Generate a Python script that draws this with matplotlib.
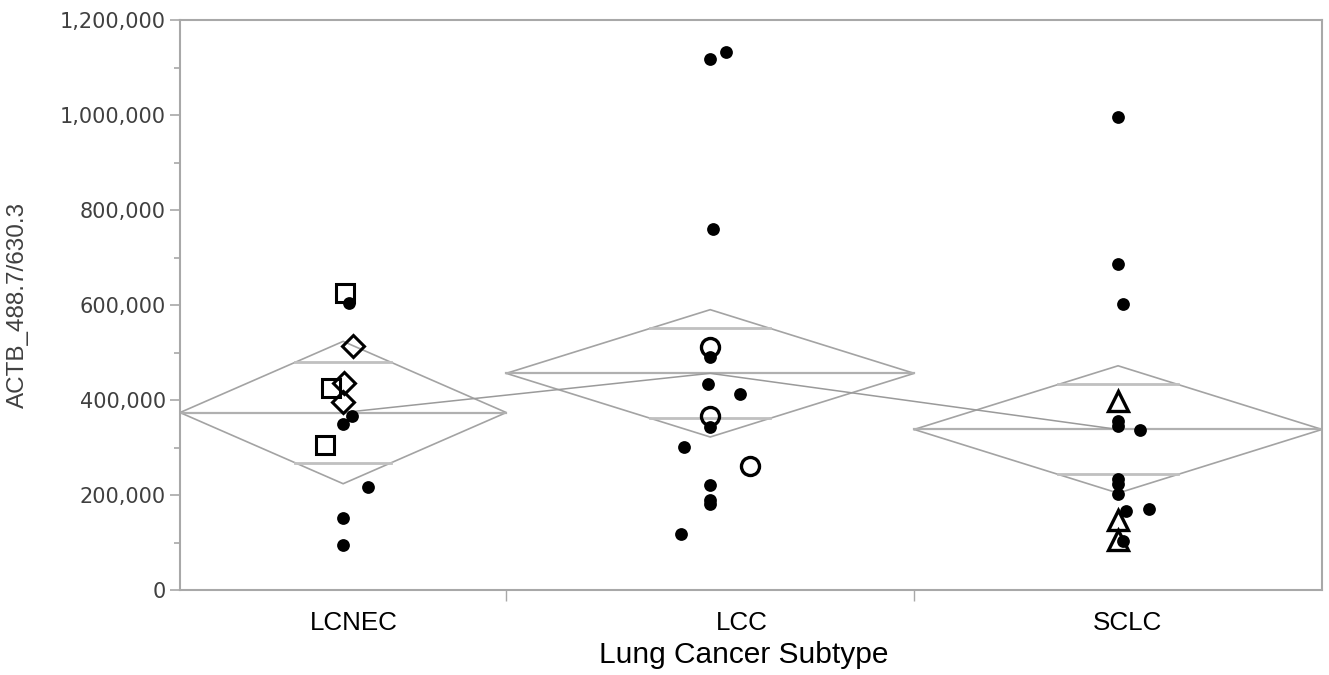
import numpy as np
import matplotlib
matplotlib.use("Agg")
import matplotlib.pyplot as plt
from matplotlib.ticker import FuncFormatter, MultipleLocator, FixedLocator

# ---------------- data ----------------
subtypes = ["LCNEC", "LCC", "SCLC"]

lcnec_values = [604000, 366000, 349000, 217000, 151000, 95000,
                625000, 425000, 305000,
                514000, 436000, 396000]
lcnec_markers = ["dot"] * 6 + ["square"] * 3 + ["diamond"] * 3
lcnec_jitter = [6, 9, 0, 25, 0, 0, 2, -12, -18, 10, 1, 0]          # px offsets

lcc_values = [1118000, 1133000, 760000, 490000, 434000, 412000, 344000,
              301000, 221000, 190000, 181000, 118000,
              512000, 366000, 262000]
lcc_markers = ["dot"] * 12 + ["circle"] * 3
lcc_jitter = [0, 16, 3, 0, -2, 30, 0, -26, 0, 0, 0, -29, 0, 0, 40]

sclc_values = [996000, 686000, 602000, 356000, 345000, 337000, 234000,
               223000, 202000, 166000, 170000, 103000,
               398000, 147000, 105000]
sclc_markers = ["dot"] * 12 + ["triangle"] * 3
sclc_jitter = [0, 0, 5, 0, 0, 22, 0, 0, 0, 8, 31, 5, 0, 0, 0]

yticks = [0, 200000, 400000, 600000, 800000, 1000000, 1200000]
label_shift_px = [11, 32, 9]
t_crit = 2.0227   # t(0.975, df=39)

groups = [(lcnec_values, lcnec_markers, lcnec_jitter),
          (lcc_values, lcc_markers, lcc_jitter),
          (sclc_values, sclc_markers, sclc_jitter)]

# ---------------- figure ----------------
W, H, DPI = 1329, 675, 100
fig = plt.figure(figsize=(W / DPI, H / DPI), dpi=DPI)
L, R, T, B = 180, 1322, 20, 590
ax = fig.add_axes([L / W, 1 - B / H, (R - L) / W, (B - T) / H])

counts = [len(g[0]) for g in groups]
edges = np.concatenate([[0], np.cumsum(counts)])
total = edges[-1]
px_per_unit = (R - L) / total
ax.set_xlim(0, total)
ax.set_ylim(0, 1200000)

# pooled error for means diamonds
means = [np.mean(g[0]) for g in groups]
ss = sum(np.sum((np.array(g[0]) - m) ** 2) for g, m in zip(groups, means))
rmse = np.sqrt(ss / (total - len(groups)))

diamond_col = "#a3a3a3"
centers = []
for i, (vals, marks, jit) in enumerate(groups):
    x0, x1 = edges[i], edges[i + 1]
    xc = (x0 + x1) / 2
    centers.append(xc)
    m = means[i]
    h = t_crit * rmse / np.sqrt(len(vals))
    ax.plot([x0, xc, x1, xc, x0], [m, m + h, m, m - h, m],
            color=diamond_col, lw=1.2, zorder=2, solid_joinstyle="miter")
    ax.plot([x0, x1], [m, m], color="#b0b0b0", lw=1.6, zorder=2)
    d = h / np.sqrt(2)
    frac = 1 - 1 / np.sqrt(2)
    half = (x1 - x0) / 2 * frac
    for yy in (m + d, m - d):
        ax.plot([xc - half, xc + half], [yy, yy], color="#c0c0c0", lw=2.0, zorder=2)

ax.plot(centers, means, color="#9a9a9a", lw=1.1, zorder=2)

style = {
    "square": dict(marker="s", ms=12.5, mfc="none", mec="black", mew=2.2),
    "diamond": dict(marker="D", ms=11, mfc="none", mec="black", mew=2.2),
    "circle": dict(marker="o", ms=13, mfc="none", mec="black", mew=2.4),
    "triangle": dict(marker="^", ms=14, mfc="none", mec="black", mew=2.4),
    "dot": dict(marker="o", ms=9.2, mfc="black", mec="black", mew=0),
}
for i, (vals, marks, jit) in enumerate(groups):
    xc = centers[i]
    for kind in ["square", "diamond", "circle", "triangle", "dot"]:
        xs = [xc + j / px_per_unit for v, k, j in zip(vals, marks, jit) if k == kind]
        ys = [v for v, k in zip(vals, marks) if k == kind]
        if xs:
            ax.plot(xs, ys, ls="none", zorder=4 if kind == "dot" else 3, **style[kind])

# ---------------- axes styling ----------------
for sp in ax.spines.values():
    sp.set_color("#a8a8a8")
    sp.set_linewidth(1.5)

ax.yaxis.set_major_locator(FixedLocator(yticks))
ax.yaxis.set_minor_locator(MultipleLocator(100000))
ax.yaxis.set_major_formatter(FuncFormatter(lambda v, p: f"{int(v):,}"))
ax.tick_params(axis="y", which="major", length=7, width=1.2, color="#a8a8a8",
               labelsize=15, labelcolor="#404040", pad=3)
ax.tick_params(axis="y", which="minor", length=4, width=1.2, color="#a8a8a8")
for lab in ax.get_yticklabels():
    lab.set_family("DejaVu Sans")

label_pos = [c + s / px_per_unit for c, s in zip(centers, label_shift_px)]
ax.xaxis.set_major_locator(FixedLocator(label_pos))
ax.set_xticklabels(subtypes, fontsize=18.7, family="Liberation Sans", color="black")
ax.xaxis.set_minor_locator(FixedLocator(list(edges[1:-1])))
ax.tick_params(axis="x", which="major", length=0, pad=15)
ax.tick_params(axis="x", which="minor", length=8, width=1.0, color="#a8a8a8")

ax.set_xlabel("Lung Cancer Subtype", fontsize=21.5, family="Liberation Sans",
              color="black")
ax.xaxis.set_label_coords((744 - L) / (R - L), -(641 - B) / (B - T))
ax.set_ylabel("ACTB_488.7/630.3", fontsize=17.5, family="Liberation Sans",
              color="#404040")
ax.yaxis.set_label_coords((29 - L) / (R - L), 0.5)

fig.savefig("out.png", dpi=DPI, facecolor="white")
